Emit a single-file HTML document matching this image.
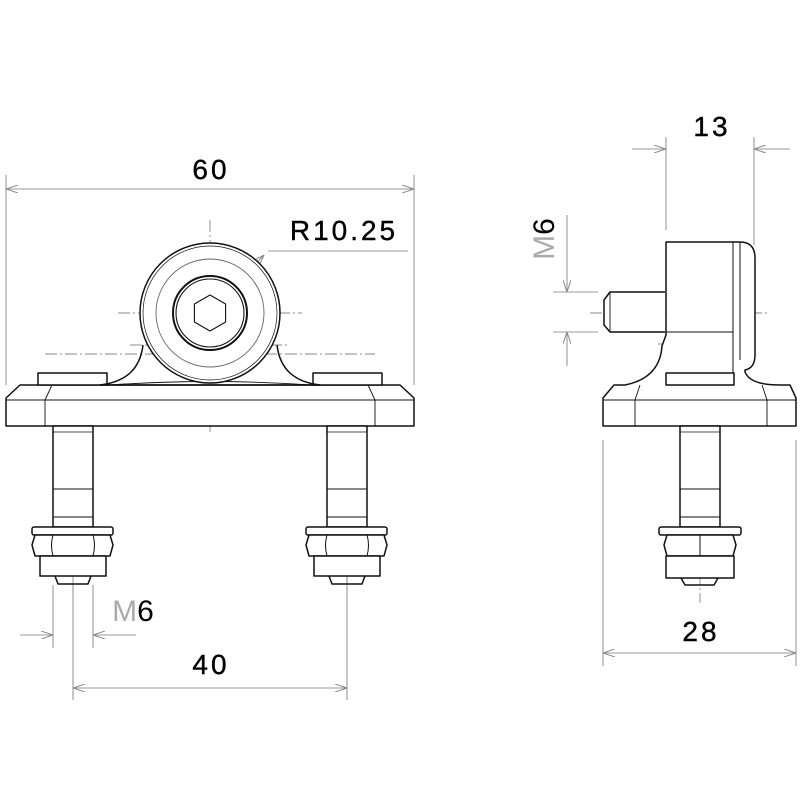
<!DOCTYPE html>
<html><head><style>html,body{margin:0;padding:0;background:#fff}svg{display:block}</style></head>
<body>
<svg width="800" height="800" viewBox="0 0 800 800" xmlns="http://www.w3.org/2000/svg" font-family="Liberation Sans, sans-serif">
<defs>
<marker id="a" viewBox="0 0 12 8" refX="12" refY="4" markerWidth="12" markerHeight="8" orient="auto-start-reverse" markerUnits="userSpaceOnUse"><path d="M0,0 L12,4 L0,8" fill="none" stroke="#888" stroke-width="1"/></marker>
</defs>
<g fill="none" stroke="#999" stroke-width="1.1">
<line x1="6" y1="175" x2="6" y2="385"/><line x1="414" y1="175" x2="414" y2="385"/>
<line x1="6" y1="189" x2="414" y2="189" marker-start="url(#a)" marker-end="url(#a)"/>
<line x1="408" y1="251" x2="268" y2="251"/>
<line x1="210" y1="313" x2="264" y2="255" marker-end="url(#a)"/>
<line x1="53" y1="585" x2="53" y2="648"/><line x1="93" y1="585" x2="93" y2="648"/>
<line x1="20" y1="635" x2="53" y2="635" marker-end="url(#a)"/>
<line x1="136" y1="635" x2="93" y2="635" marker-end="url(#a)"/>
<line x1="73" y1="585" x2="73" y2="700"/><line x1="347" y1="555" x2="347" y2="700"/>
<line x1="73" y1="688" x2="347" y2="688" marker-start="url(#a)" marker-end="url(#a)"/>
<line x1="666" y1="137" x2="666" y2="230"/><line x1="754" y1="137" x2="754" y2="245"/>
<line x1="632" y1="149" x2="666" y2="149" marker-end="url(#a)"/>
<line x1="790" y1="149" x2="754" y2="149" marker-end="url(#a)"/>
<line x1="553" y1="292" x2="598" y2="292"/><line x1="553" y1="332" x2="598" y2="332"/>
<line x1="567" y1="215" x2="567" y2="292" marker-end="url(#a)"/>
<line x1="567" y1="366" x2="567" y2="332" marker-end="url(#a)"/>
<line x1="603" y1="440" x2="603" y2="666"/><line x1="796" y1="440" x2="796" y2="666"/>
<line x1="603" y1="653" x2="796" y2="653" marker-start="url(#a)" marker-end="url(#a)"/>
</g>
<g fill="none" stroke="#888" stroke-width="0.9" stroke-dasharray="12,3,2,3">
<line x1="210" y1="220" x2="210" y2="432"/>
<line x1="118" y1="313" x2="302" y2="313"/>
<line x1="130" y1="345" x2="290" y2="345"/>
<line x1="45" y1="354" x2="375" y2="354"/>
<line x1="73" y1="373" x2="73" y2="590"/>
<line x1="347" y1="373" x2="347" y2="590"/>
<line x1="590" y1="313" x2="770" y2="313"/>
<line x1="658" y1="344" x2="742" y2="344"/>
<line x1="700" y1="373" x2="700" y2="603"/>
</g>
<g fill="none" stroke="#111" stroke-width="1.5" stroke-linejoin="round">
<path d="M20,385 L400,385 L414,398 L414,426 L6,426 L6,398 Z" fill="#fff"/>
<line x1="6" y1="400" x2="414" y2="400" stroke-width="1.1"/>
<path d="M52,385 L45,400 L45,426 M368,385 L375,400 L375,426" stroke-width="0.9"/>
<rect x="38" y="373" width="69" height="12" fill="#fff"/>
<rect x="313" y="373" width="69" height="12" fill="#fff"/>
<path d="M143,345 C140,370 125,382 100,385 L320,385 C295,382 280,370 277,345"/>
<path d="M110,385 Q210,378 310,385" stroke-width="0.9"/>
<circle cx="210" cy="313" r="70" fill="#fff"/>
<circle cx="210" cy="313" r="67" stroke-width="0.7"/>
<circle cx="210" cy="313" r="54" stroke="#666" stroke-width="0.9"/>
<circle cx="210" cy="313" r="37" stroke-width="2"/>
<circle cx="210" cy="313" r="34" stroke-width="1.1"/>
<path d="M210,295 L225.6,304 L225.6,322 L210,331 L194.4,322 L194.4,304 Z" stroke-width="1.1"/>
<g id="b">
<rect x="53" y="426" width="40" height="101" fill="#fff"/>
<line x1="53" y1="432" x2="93" y2="432" stroke-width="0.8"/>
<line x1="53" y1="489" x2="93" y2="489" stroke-width="0.9"/>
<line x1="53" y1="517" x2="93" y2="517" stroke-width="0.9"/>
<rect x="32" y="527" width="81" height="8" rx="2" fill="#fff"/>
<path d="M35,535 L110,535 L113,545 L110,556 L35,556 L32,545 Z" fill="#fff"/>
<path d="M53,535 Q50,545 53,556 M93,535 Q96,545 93,556" stroke-width="1"/>
<rect x="40" y="556" width="66" height="20" fill="#fff"/>
<path d="M55,576 L58,584 L88,584 L91,576"/>
</g>
<use href="#b" x="274"/>
<path d="M666,242 L740,242 Q755,242 755,258 L755,355 Q755,368 745,370 L745,372 Q750,385 780,385 L790,385 L796,398 L796,426 L603,426 L603,398 L614,385 L625,385 Q660,378 662,346 L666,335 Z" fill="#fff"/>
<line x1="740" y1="242" x2="740" y2="360" stroke-width="1"/>
<line x1="733" y1="242" x2="733" y2="380" stroke-width="1"/>
<line x1="603" y1="400" x2="796" y2="400" stroke-width="1.1"/>
<path d="M640,385 L635,400 L635,426 M762,385 L767,400 L767,426" stroke-width="0.9"/>
<rect x="666" y="373" width="68" height="12" fill="#fff"/>
<path d="M665,292 L610,292 L604,300 L604,325 L610,332 L665,332" fill="#fff"/>
<line x1="610" y1="292" x2="610" y2="332" stroke-width="0.9"/>
<line x1="666" y1="332" x2="733" y2="332" stroke-width="0.9"/>
<rect x="680" y="426" width="40" height="101" fill="#fff"/>
<line x1="680" y1="432" x2="720" y2="432" stroke-width="0.8"/>
<line x1="680" y1="489" x2="720" y2="489" stroke-width="0.9"/>
<line x1="680" y1="517" x2="720" y2="517" stroke-width="0.9"/>
<rect x="659" y="527" width="82" height="8" rx="2" fill="#fff"/>
<path d="M667,535 L733,535 L736,545 L733,556 L667,556 L664,545 Z" fill="#fff"/>
<line x1="700" y1="535" x2="700" y2="556" stroke-width="1"/>
<rect x="666" y="556" width="68" height="22" fill="#fff"/>
<path d="M681,578 L685,585 L714,585 L718,578"/>
</g>
<g fill="#000" font-size="28" text-anchor="middle" letter-spacing="3" stroke="#000" stroke-width="0.4">
<text x="211" y="179">60</text>
<text x="344" y="240">R10.25</text>
<text x="211" y="674">40</text>
<text x="712" y="136">13</text>
<text x="701" y="641">28</text>
</g>
<g font-size="30" text-anchor="middle">
<text x="133" y="621" fill="#000"><tspan fill="#aaa">M</tspan>6</text>
<text transform="translate(554,239) rotate(-90)" fill="#000"><tspan fill="#aaa">M</tspan>6</text>
</g>
</svg>
</body></html>
